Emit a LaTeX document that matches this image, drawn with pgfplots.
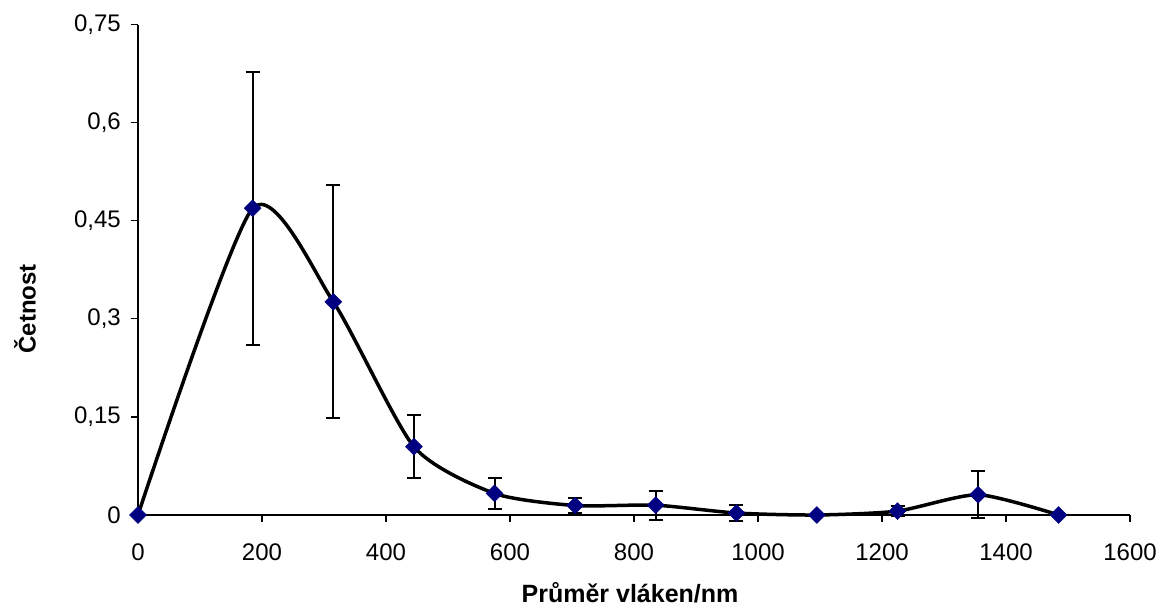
\documentclass[border=0pt]{standalone}
\usepackage{fontspec}
\setmainfont{Liberation Sans}
\usepackage{pgfplots}
\pgfplotsset{compat=1.18}
\definecolor{navy}{RGB}{0,0,128}
\begin{document}
\begin{tikzpicture}[x=1pt,y=1pt]
\useasboundingbox (0,0) rectangle (1158,608);
\begin{axis}[
  at={(138pt,93pt)}, anchor=south west,
  scale only axis, width=992pt, height=490.5pt,
  xmin=0, xmax=1600, ymin=0, ymax=0.75,
  axis x line*=bottom, axis y line*=left,
  axis line style={black, line width=1.3pt},
  xtick={0,200,...,1600},
  ytick={0,0.15,0.3,0.45,0.6,0.75},
  tick align=outside, major tick length=7pt,
  tick style={black, line width=1.3pt},
  clip=false,
  /pgf/number format/assume math mode=true,
  /pgf/number format/use comma,
  /pgf/number format/1000 sep={},
  yticklabel style={/pgf/number format/fixed, /pgf/number format/precision=2},
  tick label style={font=\fontsize{24}{28}\selectfont, inner sep=0pt},
  xticklabel style={anchor=north, yshift=-22pt},
  yticklabel style={anchor=east, xshift=-10pt},
  xlabel={\textbf{Průměr vláken/nm}},
  ylabel={\textbf{Četnost}},
  xlabel style={at={(axis description cs:0.496,-0.159)}, anchor=center, font=\fontsize{25}{30}\selectfont},
  ylabel style={at={(axis description cs:-0.114,0.42)}, anchor=center, font=\fontsize{24}{28}\selectfont},
]
\addplot[black, line width=3.5pt, smooth, tension=0.4, no marks] table[x=x, y=y] {
x y
0 0
185 0.469
315 0.326
445 0.1045
575 0.033
705 0.0145
835 0.015
965 0.003
1095 0
1225 0.006
1355 0.031
1485 0
};
\addplot[only marks, mark=none,
  error bars/.cd, y dir=both, y explicit,
  error bar style={draw=black, solid, line width=2pt},
  error mark=-,
  error mark options={rotate=90, draw=black, mark size=7pt, line width=2pt}]
  table[x=x, y=y, y error=e] {
x y e
185 0.469 0.209
315 0.326 0.178
445 0.1045 0.048
575 0.033 0.024
705 0.0145 0.012
835 0.015 0.022
965 0.003 0.012
1225 0.006 0.008
1355 0.031 0.036
};
\addplot[only marks, mark=square*, mark size=6pt,
  mark options={rotate=45, fill=navy, draw=navy}] table[x=x, y=y] {
x y
0 0
185 0.469
315 0.326
445 0.1045
575 0.033
705 0.0145
835 0.015
965 0.003
1095 0
1225 0.006
1355 0.031
1485 0
};
\end{axis}
\end{tikzpicture}
\end{document}
